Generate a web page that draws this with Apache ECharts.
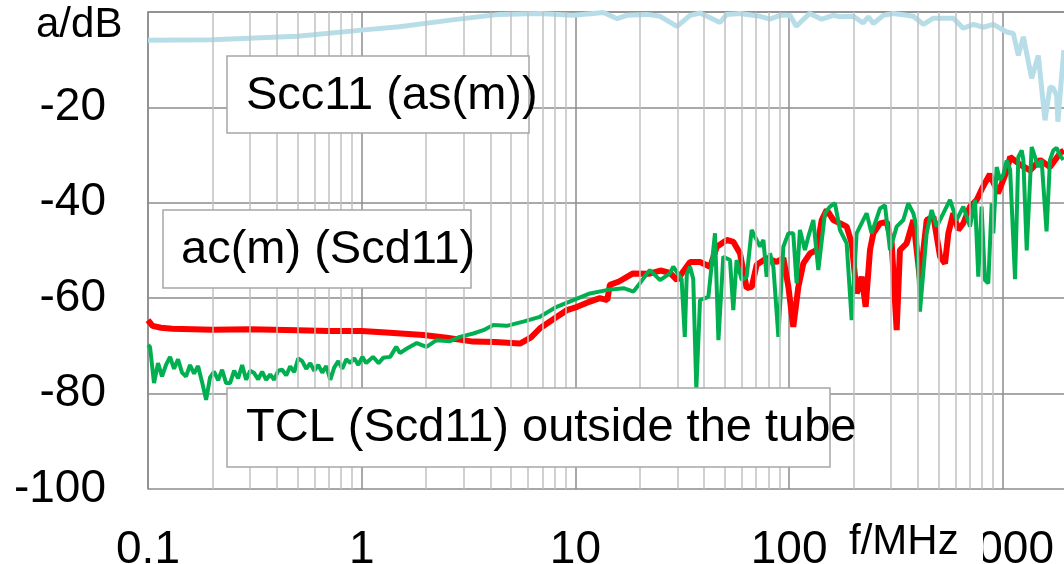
<!DOCTYPE html>
<html><head><meta charset="utf-8">
<script src="https://cdn.jsdelivr.net/npm/echarts@6/dist/echarts.min.js"></script>
<style>html,body{margin:0;padding:0;background:#fff}#c{width:1064px;height:564px}</style>
</head><body><div id="c"></div>
<script>
// ---- data (frequency in MHz, level in dB) ----
const sccFreq = [0.1,0.2,0.5,1,1.5,2.6,4.4,6.8,9.75,12.1,13.5,15.7,17.4,21.6,24.9,29.9,34.4,38.3,47.5,51.1,58.9,73.1,81.4,90.6,101,108,125,142,161,173,200,222,235,248,276,307,355,381,425,473,587,653,728,811,903,1043,1120,1182,1248,1365,1466,1575,1663,1723,1786,1811,1880,1932];
const sccDb   = [-5.9,-5.8,-5.1,-3.8,-3.1,-1.7,-0.5,-0.3,-0.7,-0.3,-0.1,-1.4,-0.7,-0.5,-0.9,-3.0,-0.7,-0.2,-2.2,-0.5,-0.3,-0.9,-1.5,-0.7,-0.7,-3.0,-0.3,-1.5,-0.7,-1.0,-0.9,-2.3,-1.0,-2.4,-0.7,-0.3,-0.7,-0.9,-2.6,-1.3,-1.3,-3.4,-2.6,-3.2,-2.6,-4.2,-4.5,-9.1,-5.2,-13.9,-9.1,-22.7,-15.7,-16.0,-17.5,-23.0,-14.0,-8.0];

const acFreq = [0.1,0.105,0.115,0.13,0.2,0.3,0.5,0.7,1,1.3,1.94,2.5,3.32,4.2,5.5,6.2,6.83,8,9.13,10.2,11.7,13,14.1,14.5,16,18.6,22,25,27.7,29.9,34.4,38.3,42.7,45.9,51.1,54.9,58.9,63.3,66.9,70.5,78.5,87.5,94,99.2,104.6,110.5,116.6,125.3,134.6,142.1,150,161.1,173,186,196.4,207.2,218.6,228.2,239.1,247.8,266.3,286.3,302.1,318.7,330.1,354.8,381.4,409.9,440.6,473.5,508.7,536.6,556.1,586.8,619.1,653.3,702.6,755.1,800,870,950,1050,1082,1205,1341,1494,1663,1852,1932];
const acDb   = [-64.6,-65.8,-66.2,-66.4,-66.6,-66.5,-66.7,-66.9,-66.9,-67.2,-67.7,-68.3,-69.1,-69.2,-69.5,-68.2,-66.3,-64.2,-62.5,-61.8,-60.7,-60.0,-60.4,-57.2,-56.5,-54.8,-54.9,-54.2,-54.7,-56.2,-52.4,-52.4,-53.4,-49.2,-47.8,-48.2,-50.6,-57.9,-57.6,-53.0,-51.6,-52.4,-51.6,-57.6,-66.0,-57.6,-52.7,-50.6,-49.9,-43.6,-41.5,-43.6,-44.3,-45.0,-48.5,-59.0,-55.5,-61.8,-49.9,-46.4,-44.3,-44.0,-48.5,-66.7,-49.9,-48.5,-43.6,-56.2,-43.6,-42.9,-51.3,-52.7,-46.4,-42.2,-45.7,-44.3,-40.8,-39.4,-37.0,-34.0,-38.0,-33.0,-30.4,-32.0,-33.2,-31.0,-32.5,-29.6,-29.0];

const tclFreq = [0.1,0.1022,0.1067,0.1114,0.1163,0.1214,0.1268,0.1324,0.1382,0.1443,0.1507,0.1573,0.1643,0.1715,0.1791,0.187,0.1952,0.2038,0.2128,0.2222,0.232,0.2422,0.2529,0.2641,0.2757,0.2879,0.3006,0.3138,0.3277,0.3421,0.3572,0.373,0.3894,0.4066,0.4245,0.4433,0.4628,0.4833,0.5046,0.5268,0.5501,0.5744,0.5997,0.6262,0.6538,0.6826,0.7127,0.7442,0.777,0.8113,0.8471,0.8845,0.9235,0.9643,1.0068,1.05,1.13,1.2,1.26,1.36,1.45,1.51,1.62,1.81,2.01,2.24,2.59,2.88,3.33,3.71,4.13,4.77,5.7,6.82,8.17,9.78,11.7,14,16.8,18.7,20,22.3,24.9,27.7,28.7,29.8,31.4,32.5,33.2,34.4,35.6,36.8,38.3,41.9,45,46.7,49.2,52.9,54.8,56.8,60,63.3,66.8,73.1,75.8,78.5,81.4,84.4,89.1,94,99.2,104.6,108.4,112.4,118.6,123,129.8,137,147.2,155.3,163.9,173,185.9,196.2,207,222.4,230.5,243.2,266.2,281,296.6,318.6,342.2,361.2,381.2,395.1,409.6,440.1,464.5,490.4,526.7,566,608,653.6,702.3,741.3,767.9,795.6,825,855.3,887.3,903,936,971,1007,1043,1082,1141,1182,1226,1248,1294,1365,1417,1466,1519,1602,1663,1723,1786,1852,1919];
const tclDb   = [-69.8,-70.2,-77.8,-73.6,-76.4,-74.0,-72.3,-74.8,-72.8,-75.6,-76.4,-74.0,-75.8,-74.2,-77.6,-81.3,-76.6,-75.4,-77.2,-75.0,-77.8,-77.8,-75.2,-76.8,-74.0,-77.1,-75.2,-75.7,-77.0,-75.4,-77.1,-76.0,-77.1,-75.2,-75.0,-76.2,-74.3,-75.5,-72.6,-73.2,-74.8,-73.6,-75.2,-74.0,-75.6,-74.2,-77.1,-74.5,-73.2,-74.8,-72.8,-73.6,-72.6,-74.0,-72.3,-73.6,-72.3,-73.6,-72.5,-72.3,-70.2,-71.5,-70.6,-69.4,-70.2,-68.8,-69,-68.1,-67.4,-66.7,-65.6,-65.8,-64.9,-63.9,-61.8,-60.4,-59,-58.3,-57.9,-58.6,-56.9,-54.1,-56.2,-54.8,-53.4,-54.5,-56,-68.1,-55,-53.4,-56,-79.2,-60.4,-59.7,-46.4,-68.8,-51.3,-52,-62.5,-52,-56.2,-55.5,-45.7,-49.2,-47.8,-55.5,-50.6,-53.4,-68.1,-49.2,-46.4,-46.4,-56.9,-45.7,-49.9,-47.1,-43.6,-54.1,-42.2,-40.8,-40.1,-45.7,-48.5,-64.6,-46.4,-43.6,-42.2,-46.4,-41.2,-40.5,-49.9,-45,-43.6,-40.1,-42.2,-45,-62.8,-46.4,-41.5,-45,-42.2,-39.4,-43.6,-40.8,-45,-39.4,-55.5,-40.8,-56.2,-56.9,-40.1,-46.4,-32.5,-35.2,-34,-31.1,-33,-56,-30.4,-29,-31,-50,-28.3,-30.5,-32.5,-31,-46,-31,-29,-28.5,-30,-31,-26.2];

const xTicks = [0.1,1,10,100,1000,10000];
const minorMultipliers = [2,3,4,5,6,7,8,9];
const minorX = [];
xTicks.slice(0,-1).forEach(d => minorMultipliers.forEach(m => minorX.push(+(d*m).toPrecision(3))));

const pairs = (f, v) => f.map((x, i) => [x, v[i]]);
const FONT = '"Liberation Sans", Arial, sans-serif';
const major = {color:'#8c8c8c', width:1.5};

const chart = echarts.init(document.getElementById('c'), null, {renderer:'canvas'});
chart.setOption({
  animation:false,
  backgroundColor:'#fff',
  grid:{left:148, top:12, right:-152.5, bottom:75, show:false, containLabel:false, outerBoundsMode:'none'},
  xAxis:{type:'log', logBase:10, min:0.1, max:10000,
    axisLine:{show:true, lineStyle:major}, axisTick:{show:false},
    axisLabel:{fontSize:46, color:'#000', fontFamily:FONT, margin:38, hideOverlap:false,
      formatter:v=>String(Number(Number(v).toPrecision(3)))},
    splitLine:{show:true, lineStyle:major}},
  yAxis:{type:'value', min:-100, max:0, interval:20,
    axisLine:{show:true, lineStyle:major}, axisTick:{show:false},
    axisLabel:{fontSize:46, color:'#000', fontFamily:FONT, margin:42,
      formatter:v=> v===0 ? '' : String(v)},
    splitLine:{show:true, lineStyle:major}},
  series:[
    {type:'line', data:[], z:1, silent:true,
      markLine:{silent:true, symbol:['none','none'], label:{show:false}, animation:false,
        lineStyle:{color:'#c0c0c0', width:1.5, type:'solid'},
        emphasis:{disabled:true},
        data:minorX.map(v=>({xAxis:v}))}},
    {name:'ac(m)', type:'line', data:pairs(acFreq, acDb), showSymbol:false, z:2,
      lineStyle:{color:'#ff0000', width:6}},
    {name:'TCL', type:'line', data:pairs(tclFreq, tclDb), showSymbol:false, z:3,
      lineStyle:{color:'#00b050', width:4}},
    {name:'Scc11', type:'line', data:pairs(sccFreq, sccDb), showSymbol:false, z:4,
      lineStyle:{color:'#b7dee8', width:5}}
  ],
  graphic:[
    {type:'rect', z:100, shape:{x:227,y:56,width:302,height:77}, style:{fill:'#fff', stroke:'#a6a6a6', lineWidth:1.5}},
    {type:'text', z:101, x:246, y:96, style:{text:'Scc11 (as(m))', font:'47px '+FONT, fill:'#000', verticalAlign:'middle'}},
    {type:'rect', z:100, shape:{x:163,y:210,width:308,height:78}, style:{fill:'#fff', stroke:'#a6a6a6', lineWidth:1.5}},
    {type:'text', z:101, x:181, y:250, style:{text:'ac(m) (Scd11)', font:'47px '+FONT, fill:'#000', verticalAlign:'middle'}},
    {type:'rect', z:100, shape:{x:227,y:388,width:603,height:79}, style:{fill:'#fff', stroke:'#a6a6a6', lineWidth:1.5}},
    {type:'text', z:101, x:246, y:428, style:{text:'TCL (Scd11) outside the tube', font:'47px '+FONT, fill:'#000', verticalAlign:'middle'}},
    {type:'rect', z:100, shape:{x:843,y:516,width:140,height:48}, style:{fill:'#fff'}},
    {type:'text', z:101, x:849, y:542, style:{text:'f/MHz', font:'42px '+FONT, fill:'#000', verticalAlign:'middle'}},
    {type:'text', z:101, x:36, y:25, style:{text:'a/dB', font:'42px '+FONT, fill:'#000', verticalAlign:'middle'}}
  ]
});
</script></body></html>
